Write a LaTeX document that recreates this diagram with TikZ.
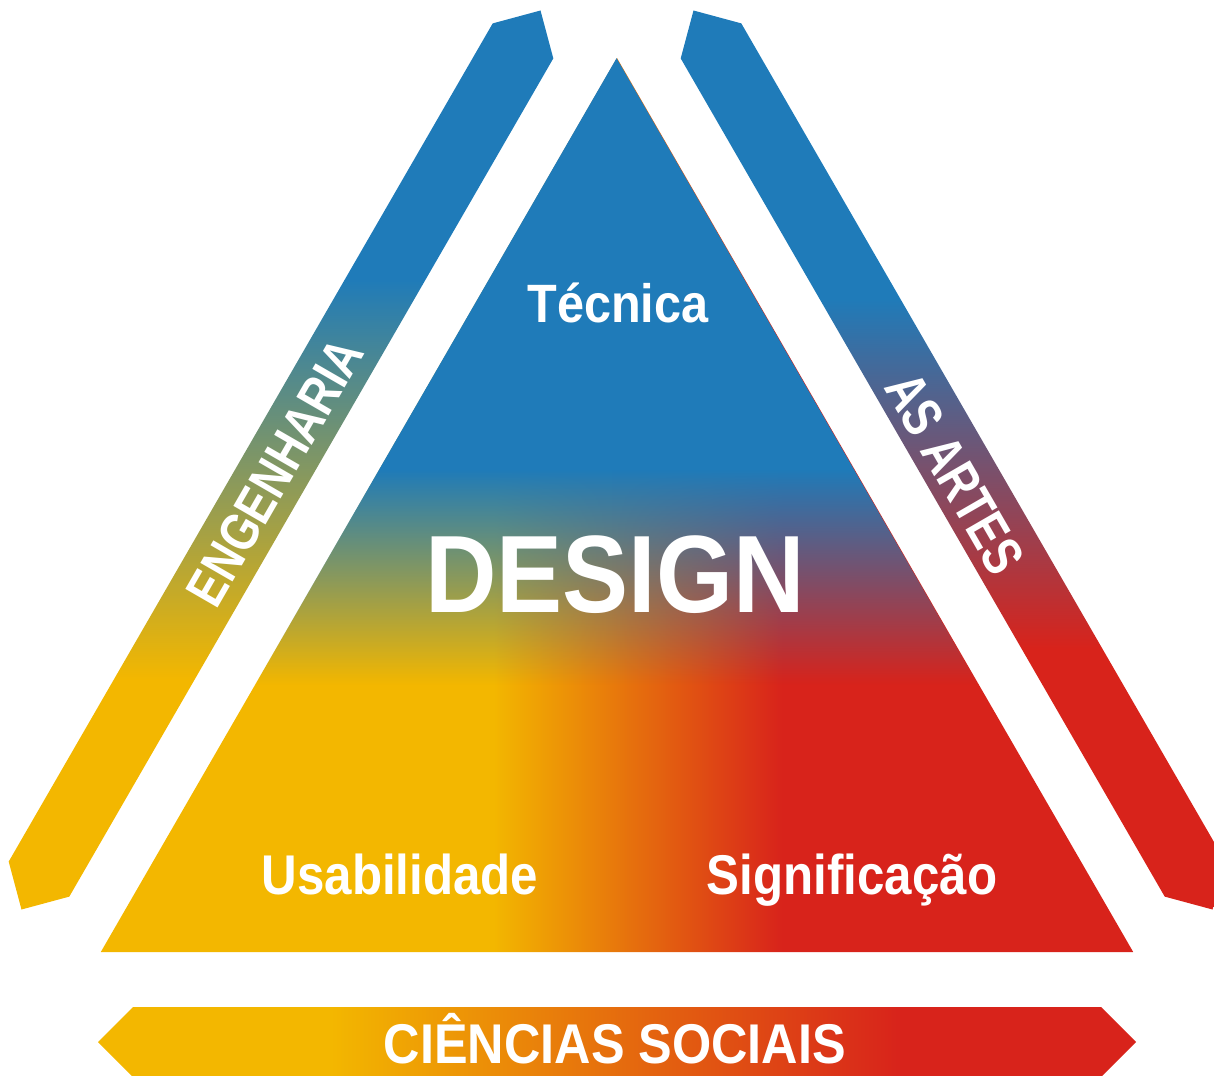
\documentclass[tikz,border=0pt]{standalone}
\usepackage{fontspec}
\setmainfont{Liberation Sans}
\newfontfamily\fa[FakeStretch=0.90]{Liberation Sans}
\newfontfamily\fb[FakeStretch=0.88]{Liberation Sans}
\usepackage{graphicx}
\usetikzlibrary{fadings}
\definecolor{blu}{RGB}{31,123,185}
\definecolor{ylw}{RGB}{243,183,0}
\definecolor{rd}{RGB}{216,35,27}
\pgfdeclareverticalshading{leftbandsh}{100bp}{color(0bp)=(ylw); color(37.8bp)=(ylw); color(60.1bp)=(blu); color(100bp)=(blu)}
\pgfdeclareverticalshading{rightbandsh}{100bp}{color(0bp)=(rd); color(39.5bp)=(rd); color(59bp)=(blu); color(100bp)=(blu)}
\pgfdeclarehorizontalshading{bottombandsh}{100bp}{color(0bp)=(ylw); color(36.2bp)=(ylw); color(63.7bp)=(rd); color(100bp)=(rd)}
\pgfdeclarehorizontalshading{trish}{100bp}{color(0bp)=(ylw); color(44bp)=(ylw); color(58bp)=(rd); color(100bp)=(rd)}
\pgfdeclareverticalshading{bluefadesh}{100bp}{color(0bp)=(black); color(40bp)=(black); color(52bp)=(white); color(100bp)=(white)}
\pgfdeclarefading{bluefade}{\pgfuseshading{bluefadesh}}
\tikzset{lbl/.style={text=white, inner sep=0pt}}
\begin{document}
\begin{tikzpicture}[x=1pt,y=-1pt]
\useasboundingbox (0,0) rectangle (1214,1075);
\clip (0,0) rectangle (1214,1075);
% triangle
\shade[shading=trish] (617,58) -- (100.8,952) -- (1133.2,952) -- cycle;
\fill[blu, path fading=bluefade] (617,58) -- (100.8,952) -- (1133.2,952) -- cycle;
% bands
\shade[shading=leftbandsh] (553.3,58.4) -- (69.3,896.6) -- (21.5,909.5) -- (8.7,861.6) -- (492.7,23.4) -- (540.5,10.5) -- cycle;
\shade[shading=rightbandsh] (680.7,58.4) -- (1164.7,896.6) -- (1212.5,909.5) -- (1225.3,861.6) -- (741.3,23.4) -- (693.5,10.5) -- cycle;
\shade[shading=bottombandsh] (133,1007) -- (1101,1007) -- (1136,1042) -- (1101,1077) -- (133,1077) -- (98,1042) -- cycle;
% labels
\node[lbl, anchor=base, font=\fa\bfseries\fontsize{54}{54}\selectfont] (tecnica) at (618,322) {Técnica};
\node[lbl, anchor=base, font=\fa\bfseries\fontsize{110}{110}\selectfont] (design) at (615,612) {DESIGN};
\node[lbl, anchor=base, font=\fb\bfseries\fontsize{56}{56}\selectfont] (usab) at (400,894) {Usabilidade};
\node[lbl, anchor=base, font=\fb\bfseries\fontsize{56}{56}\selectfont] (signif) at (852,894) {Significação};
\node[lbl, anchor=base, font=\fa\bfseries\fontsize{56}{56}\selectfont] (ciencias) at (615,1063) {CIÊNCIAS SOCIAIS};
\node[lbl, font=\bfseries\fontsize{54}{54}\selectfont] (engenharia) at (275,472) {\rotatebox{60}{\scalebox{0.82}[1]{ENGENHARIA}}};
\node[lbl, font=\bfseries\fontsize{56}{56}\selectfont] (artes) at (955,473) {\rotatebox{-60}{\scalebox{0.78}[1]{AS ARTES}}};
\end{tikzpicture}
\end{document}
